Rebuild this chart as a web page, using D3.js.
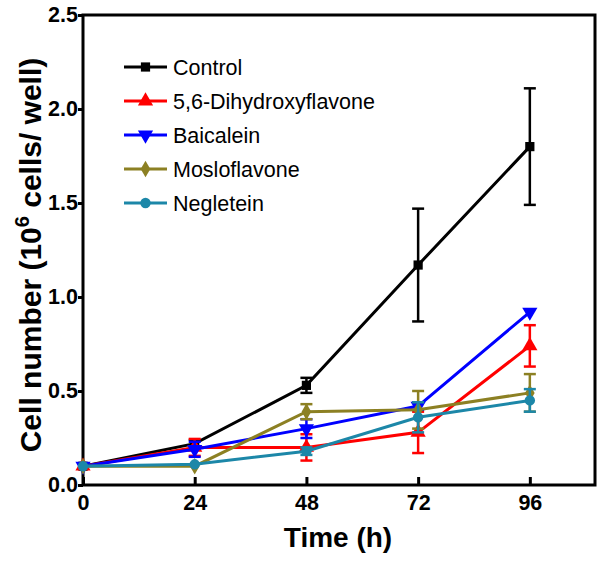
<!DOCTYPE html>
<html>
<head>
<meta charset="utf-8">
<script src="https://cdn.jsdelivr.net/npm/d3@7"></script>
<style>
body{margin:0;background:#fff;}
svg{display:block;}
</style>
</head>
<body>
<svg id="chart" width="604" height="561"></svg>
<script>
const times = [0, 24, 48, 72, 96];
const seriesNames = ["Control", "5,6-Dihydroxyflavone", "Baicalein", "Mosloflavone", "Negletein"];
const controlMean = [0.10, 0.22, 0.53, 1.17, 1.80];
const controlErr  = [0.01, 0.02, 0.04, 0.30, 0.31];
const dhfMean = [0.10, 0.20, 0.20, 0.28, 0.74];
const dhfErr  = [0.01, 0.045, 0.07, 0.11, 0.11];
const baiMean = [0.10, 0.19, 0.30, 0.42, 0.92];
const baiErr  = [0.01, 0.04, 0.05, 0.02, 0.0];
const mosMean = [0.10, 0.10, 0.39, 0.40, 0.49];
const mosErr  = [0.01, 0.01, 0.04, 0.10, 0.10];
const negMean = [0.10, 0.11, 0.18, 0.36, 0.45];
const negErr  = [0.01, 0.01, 0.02, 0.08, 0.06];
const xTicks = [0, 24, 48, 72, 96];
const yTicks = [0.0, 0.5, 1.0, 1.5, 2.0, 2.5];

const colors = ["#000000", "#ff0000", "#0000ff", "#8c8023", "#1c87a8"];
const symbols = [d3.symbolSquare, d3.symbolTriangle, "down", d3.symbolDiamond, d3.symbolCircle];
const symSizes = [85, 100, 100, 80, 85];
const means = [controlMean, dhfMean, baiMean, mosMean, negMean];
const errs = [controlErr, dhfErr, baiErr, mosErr, negErr];

const svg = d3.select("#chart");
const pL = 83, pR = 595, pT = 15, pB = 485;
const x = d3.scaleLinear().domain([0, 110]).range([pL, pR]);
const y = d3.scaleLinear().domain([0, 2.5]).range([pB, pT]);
const FONT = "Liberation Sans, Arial, sans-serif";

function symPath(i) {
  if (symbols[i] === "down") return d3.symbol().type(d3.symbolTriangle).size(symSizes[i])();
  return d3.symbol().type(symbols[i]).size(symSizes[i])();
}
function symTransform(i, cx, cy) {
  return symbols[i] === "down" ? `translate(${cx},${cy}) rotate(180)` : `translate(${cx},${cy})`;
}

// frame
svg.append("rect").attr("x", pL).attr("y", pT).attr("width", pR - pL).attr("height", pB - pT)
  .attr("fill", "none").attr("stroke", "#000").attr("stroke-width", 3);

// axes
const xAxis = d3.axisBottom(x).tickValues(xTicks).tickSizeInner(-8).tickSizeOuter(0).tickPadding(10);
const gx = svg.append("g").attr("transform", `translate(0,${pB})`).call(xAxis);
gx.select(".domain").remove();
gx.selectAll(".tick line").attr("stroke-width", 3);
gx.selectAll(".tick text").attr("font-family", FONT)
  .attr("font-weight", "bold").attr("font-size", 21.5).attr("fill", "#000");

const yAxis = d3.axisLeft(y).tickValues(yTicks).tickFormat(d3.format(".1f")).tickSizeInner(5).tickSizeOuter(0).tickPadding(0);
const gy = svg.append("g").attr("transform", `translate(${pL},0)`).call(yAxis);
gy.select(".domain").remove();
gy.selectAll(".tick line").attr("stroke-width", 3);
gy.selectAll(".tick text").attr("font-family", FONT)
  .attr("font-weight", "bold").attr("font-size", 21.5).attr("fill", "#000");

// axis titles
svg.append("text").attr("x", 338).attr("y", 547).attr("text-anchor", "middle")
  .attr("font-family", FONT).attr("font-weight", "bold").attr("font-size", 28)
  .text("Time (h)");
const yt = svg.append("text").attr("transform", "translate(41,255) rotate(-90)").attr("text-anchor", "middle")
  .attr("font-family", FONT).attr("font-weight", "bold").attr("font-size", 30);
yt.append("tspan").text("Cell number (10");
yt.append("tspan").attr("dy", -12).attr("font-size", 20).text("6");
yt.append("tspan").attr("dy", 12).text(" cells/ well)");

// series
const line = d3.line().x((d, j) => x(times[j])).y(d => y(d));
means.forEach((m, i) => {
  const g = svg.append("g");
  const c = colors[i];
  m.forEach((v, j) => {
    const e = errs[i][j];
    if (e <= 0.015) return;
    const cx = x(times[j]);
    g.append("line").attr("x1", cx).attr("x2", cx).attr("y1", y(v - e)).attr("y2", y(v + e)).attr("stroke", c).attr("stroke-width", 2.5);
    [v - e, v + e].forEach(t => g.append("line").attr("x1", cx - 6).attr("x2", cx + 6).attr("y1", y(t)).attr("y2", y(t)).attr("stroke", c).attr("stroke-width", 2.5));
  });
  g.append("path").attr("d", line(m)).attr("fill", "none").attr("stroke", c).attr("stroke-width", 3);
  m.forEach((v, j) => {
    g.append("path").attr("d", symPath(i)).attr("transform", symTransform(i, x(times[j]), y(v))).attr("fill", c);
  });
});

// legend
const legY0 = 67, legDy = 34;
seriesNames.forEach((name, i) => {
  const ly = legY0 + i * legDy;
  svg.append("line").attr("x1", 124).attr("x2", 167).attr("y1", ly).attr("y2", ly).attr("stroke", colors[i]).attr("stroke-width", 3);
  svg.append("path").attr("d", symPath(i)).attr("transform", symTransform(i, 145.5, ly)).attr("fill", colors[i]);
  svg.append("text").attr("x", 173).attr("y", ly + 8).attr("font-family", FONT)
    .attr("font-size", 21.5).text(name);
});
</script>
</body>
</html>
